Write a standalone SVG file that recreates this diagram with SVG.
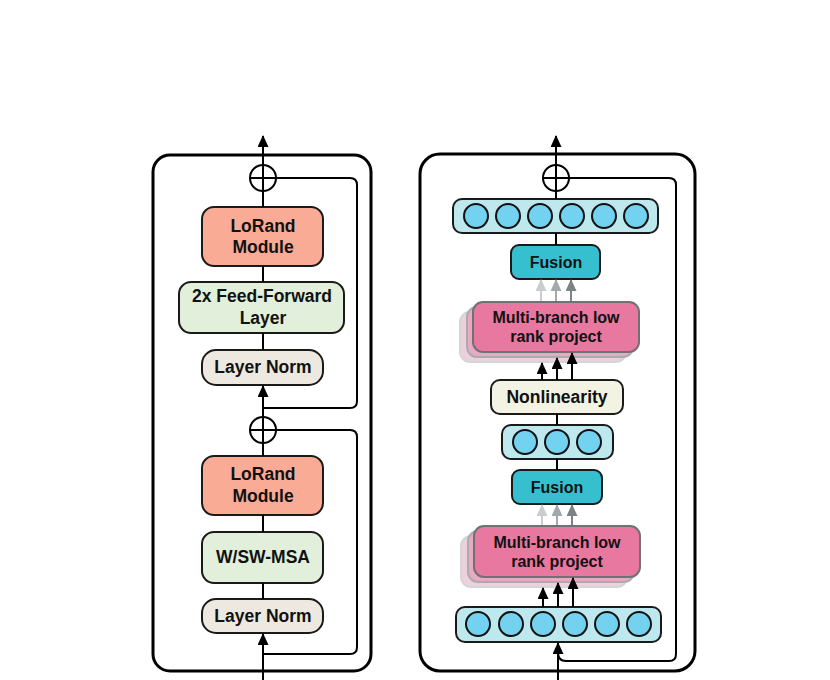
<svg xmlns="http://www.w3.org/2000/svg" width="830" height="680" viewBox="0 0 830 680">
<defs>
<marker id="ah" viewBox="0 0 12 11" refX="11" refY="5.5" markerWidth="12" markerHeight="11" markerUnits="userSpaceOnUse" orient="auto"><path d="M0,0 L12,5.5 L0,11 Z" fill="#000"/></marker>
<marker id="ahl" viewBox="0 0 12 11" refX="11" refY="5.5" markerWidth="12" markerHeight="11" markerUnits="userSpaceOnUse" orient="auto"><path d="M0,0 L12,5.5 L0,11 Z" fill="#c9ccd0"/></marker>
<marker id="ahm" viewBox="0 0 12 11" refX="11" refY="5.5" markerWidth="12" markerHeight="11" markerUnits="userSpaceOnUse" orient="auto"><path d="M0,0 L12,5.5 L0,11 Z" fill="#a2a8ad"/></marker>
<marker id="ahd" viewBox="0 0 12 11" refX="11" refY="5.5" markerWidth="12" markerHeight="11" markerUnits="userSpaceOnUse" orient="auto"><path d="M0,0 L12,5.5 L0,11 Z" fill="#7b8387"/></marker>
</defs>
<style>
.panel{fill:none;stroke:#000;stroke-width:3}
.box{stroke:#1a1a1a;stroke-width:2}
.ln{fill:none;stroke:#000;stroke-width:2}
.t{font-family:"Liberation Sans",Arial,sans-serif;font-weight:bold;font-size:17.5px;fill:#111;text-anchor:middle}
.ts{font-family:"Liberation Sans",Arial,sans-serif;font-weight:bold;font-size:16px;fill:#111;text-anchor:middle}
.lora{fill:#f9ab95}
.ff{fill:#e2efda}
.norm{fill:#ede9e0}
.bar{fill:#bde8ee}
.cell{fill:#73d2f0;stroke:#111;stroke-width:2}
.fus{fill:#36c0cf}
.mb{fill:#e878a0;stroke:#6f7173;stroke-width:2}
.mb2{fill:#e9a9c3;stroke:#a9acae;stroke-width:2}
.mb3{fill:#ecd1dc;stroke:#d3d5d7;stroke-width:2}
.nl{fill:#f2f3e2}
.circ{fill:#fff;stroke:#000;stroke-width:2}
</style>

<rect class="panel" x="153" y="155" width="218" height="516" rx="17"/>
<rect class="panel" x="420" y="154" width="275" height="517" rx="20"/>

<!-- left panel nodes -->
<g id="add-top-left">
  <circle class="circ" cx="263" cy="178" r="13"/>
  <line class="ln" x1="263" y1="165" x2="263" y2="191"/>
  <line class="ln" x1="250" y1="178" x2="276" y2="178"/>
</g>
<g id="lorand-top">
  <rect class="box lora" x="202" y="207" width="121" height="59" rx="12"/>
  <text class="t" x="263" y="232">LoRand</text>
  <text class="t" x="263" y="253">Module</text>
</g>
<g id="ffn">
  <rect class="box ff" x="179" y="282" width="165" height="51" rx="12"/>
  <text class="t" x="262" y="302">2x Feed-Forward</text>
  <text class="t" x="263" y="324">Layer</text>
</g>
<g id="norm-top">
  <rect class="box norm" x="202" y="350" width="121" height="35" rx="14"/>
  <text class="t" x="263" y="373">Layer Norm</text>
</g>
<g id="add-bottom-left">
  <circle class="circ" cx="263" cy="430" r="13"/>
  <line class="ln" x1="263" y1="417" x2="263" y2="443"/>
  <line class="ln" x1="250" y1="430" x2="276" y2="430"/>
</g>
<g id="lorand-bottom">
  <rect class="box lora" x="202" y="456" width="121" height="59" rx="12"/>
  <text class="t" x="263" y="480">LoRand</text>
  <text class="t" x="263" y="502">Module</text>
</g>
<g id="msa">
  <rect class="box ff" x="202" y="532" width="121" height="51" rx="12"/>
  <text class="t" x="263" y="563">W/SW-MSA</text>
</g>
<g id="norm-bottom">
  <rect class="box norm" x="202" y="599" width="121" height="34" rx="14"/>
  <text class="t" x="263" y="622">Layer Norm</text>
</g>

<!-- right panel nodes -->
<g id="add-right">
  <circle class="circ" cx="556" cy="178" r="13"/>
  <line class="ln" x1="556" y1="165" x2="556" y2="191"/>
  <line class="ln" x1="543" y1="178" x2="569" y2="178"/>
</g>
<g id="out-bar">
  <rect class="box bar" x="453" y="199" width="205" height="34" rx="9"/>
  <circle class="cell" cx="476" cy="216" r="12"/>
  <circle class="cell" cx="508" cy="216" r="12"/>
  <circle class="cell" cx="540" cy="216" r="12"/>
  <circle class="cell" cx="572" cy="216" r="12"/>
  <circle class="cell" cx="604" cy="216" r="12"/>
  <circle class="cell" cx="636" cy="216" r="12"/>
</g>
<g id="fusion-top">
  <rect class="box fus" x="511" y="245" width="89" height="34" rx="8"/>
  <text class="ts" x="556" y="268">Fusion</text>
</g>
<g id="mb-top">
  <rect class="mb3" x="460" y="312" width="166" height="50" rx="10"/>
  <rect class="mb2" x="467" y="307" width="166" height="50" rx="10"/>
  <rect class="mb" x="473" y="302" width="166" height="50" rx="10"/>
  <text class="ts" x="556" y="323">Multi-branch low</text>
  <text class="ts" x="556" y="342">rank project</text>
</g>
<g id="nonlinearity">
  <rect class="box nl" x="491" y="380" width="132" height="34" rx="9"/>
  <text class="t" x="557" y="403">Nonlinearity</text>
</g>
<g id="mid-bar">
  <rect class="box bar" x="502" y="425" width="111" height="34" rx="9"/>
  <circle class="cell" cx="525" cy="442" r="12"/>
  <circle class="cell" cx="557" cy="442" r="12"/>
  <circle class="cell" cx="589" cy="442" r="12"/>
</g>
<g id="fusion-bottom">
  <rect class="box fus" x="512" y="470" width="90" height="34" rx="8"/>
  <text class="ts" x="557" y="493">Fusion</text>
</g>
<g id="mb-bottom">
  <rect class="mb3" x="461" y="536" width="166" height="51" rx="10"/>
  <rect class="mb2" x="468" y="531" width="166" height="51" rx="10"/>
  <rect class="mb" x="474" y="526" width="166" height="51" rx="10"/>
  <text class="ts" x="557" y="548">Multi-branch low</text>
  <text class="ts" x="557" y="567">rank project</text>
</g>
<g id="in-bar">
  <rect class="box bar" x="456" y="607" width="205" height="35" rx="9"/>
  <circle class="cell" cx="478" cy="624" r="12"/>
  <circle class="cell" cx="511" cy="624" r="12"/>
  <circle class="cell" cx="543" cy="624" r="12"/>
  <circle class="cell" cx="575" cy="624" r="12"/>
  <circle class="cell" cx="607" cy="624" r="12"/>
  <circle class="cell" cx="639" cy="624" r="12"/>
</g>

<g id="connectors">
  <!-- left panel -->
  <line class="ln" x1="263" y1="165" x2="263" y2="136" marker-end="url(#ah)"/>
  <line class="ln" x1="263" y1="191" x2="263" y2="207"/>
  <line class="ln" x1="263" y1="266" x2="263" y2="282"/>
  <line class="ln" x1="263" y1="333" x2="263" y2="350"/>
  <line class="ln" x1="263" y1="417" x2="263" y2="386" marker-end="url(#ah)"/>
  <path class="ln" d="M276,178 H350 Q357,178 357,185 V401 Q357,408 350,408 H263"/>
  <line class="ln" x1="263" y1="443" x2="263" y2="456"/>
  <line class="ln" x1="263" y1="515" x2="263" y2="532"/>
  <line class="ln" x1="263" y1="583" x2="263" y2="599"/>
  <line class="ln" x1="263" y1="680" x2="263" y2="634" marker-end="url(#ah)"/>
  <path class="ln" d="M276,430 H350 Q357,430 357,437 V647 Q357,654 350,654 H263"/>
  <!-- right panel -->
  <line class="ln" x1="556" y1="165" x2="556" y2="136" marker-end="url(#ah)"/>
  <line class="ln" x1="556" y1="191" x2="556" y2="199"/>
  <line class="ln" x1="556" y1="233" x2="556" y2="245"/>
  <path class="ln" d="M569,178 H669 Q676,178 676,185 V654 Q676,661 669,661 H566 Q558,661 558,652"/>
  <line class="ln" x1="558" y1="680" x2="558" y2="643" marker-end="url(#ah)"/>
  <line class="ln" x1="557" y1="414" x2="557" y2="425"/>
  <line class="ln" x1="557" y1="459" x2="557" y2="470"/>
  <!-- gray arrows into Fusion top -->
  <line x1="541" y1="301" x2="541" y2="280" stroke="#c9ccd0" stroke-width="2" marker-end="url(#ahl)"/>
  <line x1="556" y1="301" x2="556" y2="280" stroke="#a2a8ad" stroke-width="2" marker-end="url(#ahm)"/>
  <line x1="571" y1="301" x2="571" y2="280" stroke="#7b8387" stroke-width="2" marker-end="url(#ahd)"/>
  <!-- black arrows into MB top -->
  <line class="ln" x1="542" y1="380" x2="542" y2="363" marker-end="url(#ah)"/>
  <line class="ln" x1="557" y1="380" x2="557" y2="358" marker-end="url(#ah)"/>
  <line class="ln" x1="572" y1="380" x2="572" y2="353" marker-end="url(#ah)"/>
  <!-- gray arrows into Fusion bottom -->
  <line x1="542" y1="525" x2="542" y2="505" stroke="#c9ccd0" stroke-width="2" marker-end="url(#ahl)"/>
  <line x1="557" y1="525" x2="557" y2="505" stroke="#a2a8ad" stroke-width="2" marker-end="url(#ahm)"/>
  <line x1="572" y1="525" x2="572" y2="505" stroke="#7b8387" stroke-width="2" marker-end="url(#ahd)"/>
  <!-- black arrows into MB bottom -->
  <line class="ln" x1="543" y1="607" x2="543" y2="588" marker-end="url(#ah)"/>
  <line class="ln" x1="558" y1="607" x2="558" y2="583" marker-end="url(#ah)"/>
  <line class="ln" x1="573" y1="607" x2="573" y2="578" marker-end="url(#ah)"/>
</g>
</svg>
